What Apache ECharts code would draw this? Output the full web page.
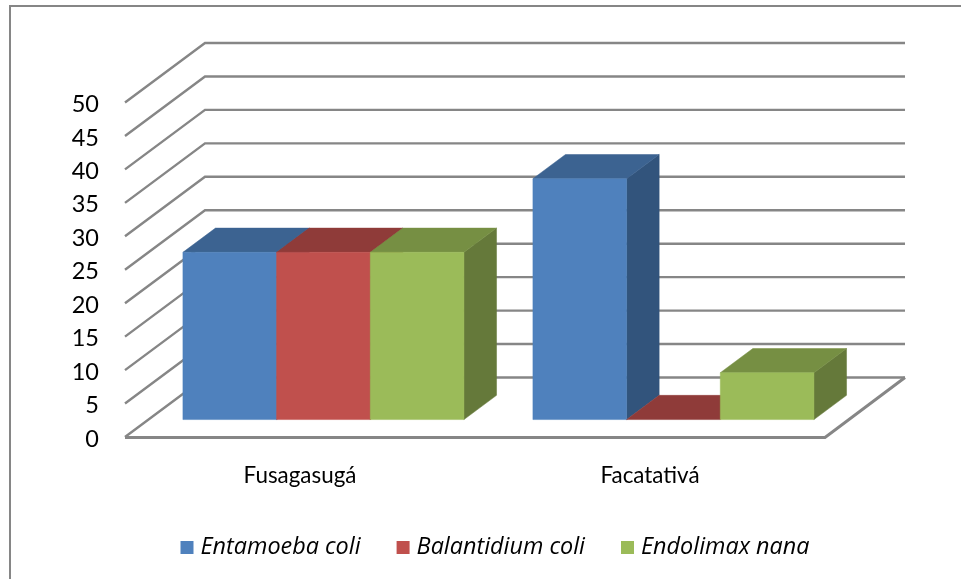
<!DOCTYPE html>
<html>
<head>
<meta charset="utf-8">
<style>html,body{margin:0;padding:0;background:#fff}#chart{width:961px;height:579px}</style>
<script src="https://cdn.jsdelivr.net/npm/echarts@6/dist/echarts.min.js"></script>
</head>
<body>
<div id="chart"></div>
<script>
const categories = ['Fusagasugá', 'Facatativá'];
const yTicks = [0, 5, 10, 15, 20, 25, 30, 35, 40, 45, 50];
const entamoebaColi = [25, 36];
const balantidiumColi = [25, 0];
const endolimaxNana = [25, 7];

const seriesNames = ['Entamoeba coli', 'Balantidium coli', 'Endolimax nana'];
const seriesValues = [entamoebaColi, balantidiumColi, endolimaxNana];
const faceColors = [
  { front: '#4F81BD', top: '#3C6391', side: '#32547C' },
  { front: '#C0504D', top: '#8F3B39', side: '#7A3230' },
  { front: '#9BBB59', top: '#768F43', side: '#65793A' }
];

// Oblique projection of the floor: how far the back wall sits from the front plane.
const DEPTH_X = 80;
const DEPTH_Y = 59.5;
const BAR_FRONT = 0.293;
const BAR_BACK = 0.70;
const CLUSTER_SHARE = 0.803;
const LINE_COLOR = '#868686';
const FONT = 'Lato';
const LEGEND_FONT = 'Open Sans';

const poly = (points, color) => ({
  type: 'polygon',
  shape: { points },
  style: { fill: color, stroke: color, lineWidth: 0.5 }
});

// Gridlines: each tick runs along the side wall and then across the back wall.
function renderWall(params, api) {
  const value = api.value(0);
  const [x0, y] = api.coord([0, value]);
  const band = api.size([1, 0])[0];
  const left = x0 - band / 2;
  const right = left + band * categories.length;
  const lines = [{
    type: 'polyline',
    shape: { points: [[left, y], [left + DEPTH_X, y - DEPTH_Y], [right + DEPTH_X, y - DEPTH_Y]] },
    style: { fill: 'none', stroke: LINE_COLOR, lineWidth: 2.4 }
  }];
  if (value === 0) {
    lines.push({
      type: 'polyline',
      shape: { points: [[left, y + 0.5], [right, y + 0.5], [right + DEPTH_X, y - DEPTH_Y]] },
      style: { fill: 'none', stroke: LINE_COLOR, lineWidth: 3 }
    });
  }
  return { type: 'group', children: lines };
}

// One box per category, with front, top and right faces.
function boxRenderer(seriesIndex) {
  return function (params, api) {
    const cat = api.value(0);
    const [cx, yTop] = api.coord([cat, api.value(1)]);
    const yBase = api.coord([cat, 0])[1];
    const band = api.size([1, 0])[0];
    const width = band * CLUSTER_SHARE / seriesValues.length;
    const x0 = cx - width * seriesValues.length / 2 + width * seriesIndex;
    const fx = DEPTH_X * BAR_FRONT, fy = DEPTH_Y * BAR_FRONT;
    const bx = DEPTH_X * BAR_BACK, by = DEPTH_Y * BAR_BACK;
    const l = x0 + fx, r = x0 + width + fx;
    const lb = x0 + bx, rb = x0 + width + bx;
    const top = yTop - fy, base = yBase - fy;
    const topB = yTop - by, baseB = yBase - by;
    const c = faceColors[seriesIndex];
    const faces = [];
    if (top !== base) {
      faces.push(poly([[r, base], [rb, baseB], [rb, topB], [r, top]], c.side));
    }
    faces.push(poly([[l, top], [lb, topB], [rb, topB], [r, top]], c.top));
    if (top !== base) {
      faces.push(poly([[l, base], [r, base], [r, top], [l, top]], c.front));
    }
    return { type: 'group', children: faces };
  };
}

const chart = echarts.init(document.getElementById('chart'));
chart.setOption({
  animation: false,
  backgroundColor: '#ffffff',
  textStyle: { fontFamily: FONT },
  graphic: [{
    type: 'rect',
    silent: true,
    shape: { x: 10, y: 6, width: 1100, height: 800 },
    style: { fill: 'none', stroke: LINE_COLOR, lineWidth: 2 }
  }],
  grid: { left: 125, top: 102.5, width: 700, height: 334.5 },
  xAxis: {
    type: 'category',
    data: categories,
    axisLine: { show: false },
    axisTick: { show: false },
    axisLabel: { fontFamily: FONT, fontSize: 22.4, color: '#000', margin: 28 }
  },
  yAxis: {
    type: 'value',
    min: 0,
    max: 50,
    interval: 5,
    axisLine: { show: false },
    axisTick: { show: false },
    splitLine: { show: false },
    axisLabel: { fontFamily: FONT, fontSize: 23.5, color: '#000', margin: 26, verticalAlign: 'top', lineHeight: 4 }
  },
  legend: {
    data: seriesNames,
    left: 175.5,
    top: 531,
    icon: 'rect',
    itemWidth: 13,
    itemHeight: 13,
    itemGap: 36,
    textStyle: { fontFamily: LEGEND_FONT, fontSize: 23.4, fontStyle: 'italic', color: '#000', padding: [0, 0, 0, 2] }
  },
  series: [
    {
      type: 'custom',
      name: 'walls',
      silent: true,
      clip: false,
      renderItem: renderWall,
      encode: { y: 0 },
      data: yTicks.map(v => [v])
    },
    ...seriesNames.map((name, i) => ({
      type: 'custom',
      name,
      clip: false,
      renderItem: boxRenderer(i),
      itemStyle: { color: faceColors[i].front },
      encode: { x: 0, y: 1 },
      data: seriesValues[i].map((v, c) => [c, v])
    }))
  ]
});
</script>
</body>
</html>
